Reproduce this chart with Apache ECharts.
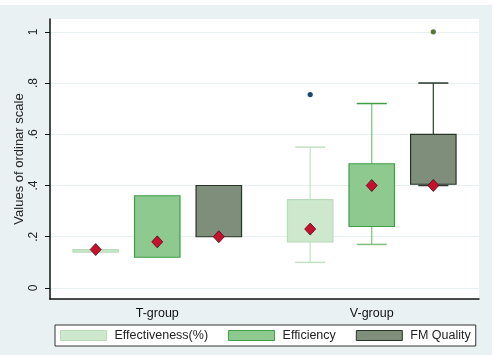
<!DOCTYPE html>
<html>
<head>
<meta charset="utf-8">
<script src="https://cdn.jsdelivr.net/npm/echarts@6/dist/echarts.min.js"></script>
<style>
  html, body { margin: 0; padding: 0; background: #fff; }
  #chart { position: absolute; left: 0; top: 5px; width: 492px; height: 350px; }
</style>
</head>
<body>
<div id="chart"></div>
<script>
const FONT = "Liberation Sans";

const groups = ["T-group", "V-group"];
const measures = ["Effectiveness(%)", "Efficiency", "FM Quality"];

// per measure: [groupIndex, lowerWhisker, q1, q3, upperWhisker, mean]
const effectiveness = [[0, 0.14, 0.14, 0.15, 0.15, 0.15], [1, 0.10, 0.18, 0.345, 0.55, 0.23]];
const efficiency = [[0, 0.12, 0.12, 0.36, 0.36, 0.18], [1, 0.17, 0.24, 0.485, 0.72, 0.40]];
const fmQuality = [[0, 0.20, 0.20, 0.40, 0.40, 0.20], [1, 0.40, 0.405, 0.60, 0.80, 0.40]];

// outliers: [groupIndex, measureIndex, value]
const outliers = [[1, 0, 0.755], [1, 2, 1.0]];

const yTicks = [0, 0.2, 0.4, 0.6, 0.8, 1];
const yTickLabels = ["0", ".2", ".4", ".6", ".8", "1"];

const FILL = ["#cde8cc", "#8ec98f", "#7f8d7b"];
const EDGE = ["#b8dcb8", "#3f9e46", "#26342a"];
const WHISK = ["#c2e2c2", "#7bc07e", "#2d3c2f"];
const OUTLIER = ["#1a476f", "#1a476f", "#5a7634"];

const chart = echarts.init(document.getElementById("chart"));

function offsetFor(m, band) {
  return (m - 1) * band * 0.287;
}

function boxRenderer(m) {
  return function (params, api) {
    const cat = api.value(0);
    const band = api.size([1, 0])[0];
    const dx = offsetFor(m, band);
    const half = band * 0.106;
    const cap = band * 0.07;
    const pt = (v) => { const p = api.coord([cat, v]); return [p[0] + dx, p[1]]; };
    const lo = pt(api.value(1)), q1 = pt(api.value(2)), q3 = pt(api.value(3)),
      hi = pt(api.value(4)), mean = pt(api.value(5));
    const x = lo[0];
    const children = [];
    if (api.value(4) > api.value(3)) {
      children.push({ type: "line", shape: { x1: x, y1: q3[1], x2: x, y2: hi[1] },
        style: { stroke: WHISK[m], lineWidth: 1.2 } });
      children.push({ type: "line", shape: { x1: x - cap, y1: hi[1], x2: x + cap, y2: hi[1] },
        style: { stroke: m === 0 ? WHISK[m] : EDGE[m], lineWidth: 1.5 } });
    }
    if (api.value(1) < api.value(2)) {
      children.push({ type: "line", shape: { x1: x, y1: q1[1], x2: x, y2: lo[1] },
        style: { stroke: WHISK[m], lineWidth: 1.2 } });
      children.push({ type: "line", shape: { x1: x - cap, y1: lo[1], x2: x + cap, y2: lo[1] },
        style: { stroke: WHISK[m], lineWidth: 1.5 } });
    }
    children.push({ type: "rect",
      shape: { x: x - half, y: q3[1], width: half * 2, height: q1[1] - q3[1] },
      style: { fill: FILL[m], stroke: EDGE[m], lineWidth: 1.2 } });
    const r = 5.5;
    children.push({ type: "polygon",
      shape: { points: [[x, mean[1] - r - 0.5], [x + r, mean[1]], [x, mean[1] + r + 0.5], [x - r, mean[1]]] },
      style: { fill: "#c8102e", stroke: "#4a0b16", lineWidth: 0.8 } });
    return { type: "group", children };
  };
}

function outlierRenderer(params, api) {
  const cat = api.value(0);
  const m = api.value(1);
  const band = api.size([1, 0])[0];
  const p = api.coord([cat, api.value(2)]);
  return { type: "circle", shape: { cx: p[0] + offsetFor(m, band), cy: p[1], r: 2.6 },
    style: { fill: OUTLIER[m] } };
}

const boxData = [effectiveness, efficiency, fmQuality];

chart.setOption({
  backgroundColor: "#e9f1f3",
  animation: false,
  textStyle: { fontFamily: FONT },
  grid: { left: 50, right: 13, top: 14, bottom: 56, show: true, backgroundColor: "#fff", borderWidth: 0 },
  xAxis: {
    type: "category",
    data: groups,
    axisLine: { onZero: false, lineStyle: { color: "#111", width: 1.5 } },
    axisTick: { show: false },
    axisLabel: { color: "#111", fontSize: 12.5, fontFamily: FONT, margin: 8 },
    splitLine: { show: false },
  },
  yAxis: {
    type: "value",
    min: -0.043,
    max: 1.05,
    name: "Values of ordinar scale",
    nameLocation: "middle",
    nameGap: 24,
    nameMoveOverlap: false,
    nameTextStyle: { color: "#222", fontSize: 13, fontFamily: FONT },
    axisLine: { show: true, lineStyle: { color: "#111", width: 1.5 } },
    axisTick: { show: true, length: 5, customValues: yTicks, lineStyle: { color: "#111" } },
    axisLabel: {
      customValues: yTicks, rotate: 90, margin: 10, color: "#222", fontSize: 12, fontFamily: FONT,
      formatter: (v) => { const i = yTicks.findIndex((t) => Math.abs(t - v) < 1e-6); return i >= 0 ? yTickLabels[i] : ""; },
    },
    splitLine: { show: true, lineStyle: { color: "#e8eff1", width: 1 } },
  },
  legend: {
    left: 55,
    top: 320,
    padding: [4, 5, 4, 5],
    itemWidth: 46,
    itemHeight: 10,
    itemGap: 20,
    borderColor: "#333",
    borderWidth: 1,
    backgroundColor: "#fff",
    icon: "rect",
    textStyle: { fontSize: 12.5, color: "#222", fontFamily: FONT, padding: [0, 0, 0, 3] },
    data: measures.map((name, m) => ({ name, itemStyle: { color: FILL[m], borderColor: EDGE[m], borderWidth: 1 } })),
  },
  series: measures.map((name, m) => ({
    name,
    type: "custom",
    renderItem: boxRenderer(m),
    itemStyle: { color: FILL[m], borderColor: EDGE[m] },
    encode: { x: 0, y: [1, 2, 3, 4, 5] },
    data: boxData[m],
    z: 3,
  })).concat([{
    name: "outliers",
    type: "custom",
    renderItem: outlierRenderer,
    encode: { x: 0, y: 2 },
    data: outliers,
    z: 4,
  }]),
});
</script>
</body>
</html>
